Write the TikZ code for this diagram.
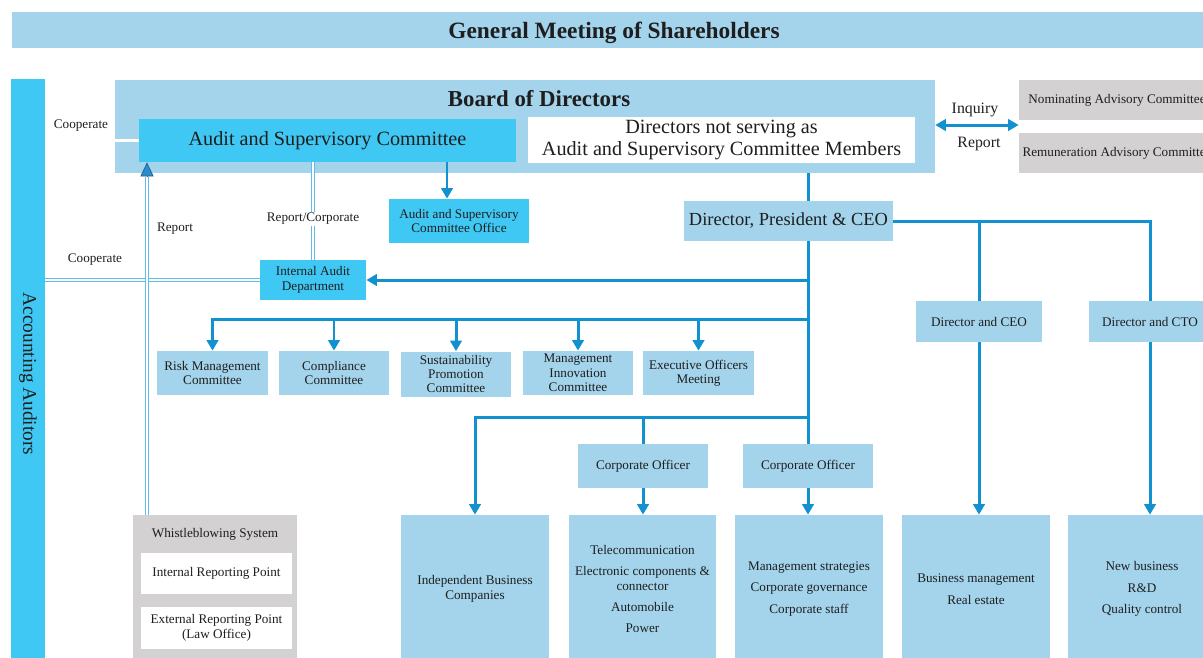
\documentclass[tikz,border=0pt]{standalone}
\usepackage{fontspec}
\setmainfont{Liberation Serif}
\usetikzlibrary{arrows.meta}

\definecolor{palebox}{HTML}{A3D4EC}
\definecolor{brightbox}{HTML}{40C8F4}
\definecolor{greybox}{HTML}{D3D1D1}
\definecolor{linkblue}{HTML}{1192CF}
\definecolor{pipeblue}{HTML}{62BCE6}
\definecolor{tipblue}{HTML}{2C8CCB}
\definecolor{ink}{HTML}{1E1E1E}

\tikzset{pale box/.style={fill=palebox,text=ink,align=center,inner sep=0.03cm,font=\fontsize{7.5}{8.2}\selectfont},
bright box/.style={pale box,fill=brightbox},
grey box/.style={pale box,fill=greybox},
white box/.style={pale box,fill=white},
note/.style={text=ink,inner sep=0.03cm,font=\fontsize{7.5}{8.2}\selectfont},
link/.style={draw=linkblue,line width=1.7pt},
feed/.style={link,-{Triangle[width=6.5pt,length=6pt]}},
both feed/.style={link,{Triangle[width=6.5pt,length=6pt]}-{Triangle[width=6.5pt,length=6pt]}},
double link/.style={draw=pipeblue,line width=0.45pt,double=white,double distance=1.2pt},
report tip/.style={draw=tipblue!70!black,line width=0.4pt,-{Triangle[width=7.5pt,length=8pt,fill=tipblue]}}}

\begin{document}
\begin{tikzpicture}[x=0.02cm,y=-0.02cm]
\useasboundingbox (0,0) rectangle (1203,657);

%% shareholders and auditors
\node[pale box,minimum width=24.08cm,minimum height=0.72cm,text depth=0pt,font=\fontsize{13.3}{15}\selectfont\bfseries] (gms) at (614,30) {General Meeting of Shareholders};
\node[bright box,minimum width=11.82cm,minimum height=0.68cm,rotate=-90,font=\fontsize{11}{13}\selectfont] (acc) at (28,374) {Accounting Auditors};

%% board of directors
\node[pale box,minimum width=16.4cm,minimum height=1.86cm] (board) at (525,126.5) {};
\node[note,font=\fontsize{13}{15}\selectfont\bfseries] (board title) at (539,99) {Board of Directors};
\node[bright box,minimum width=7.54cm,minimum height=0.86cm,font=\fontsize{11.5}{12.5}\selectfont] (asc) at (327.5,140.5) {Audit and Supervisory Committee};
\node[white box,minimum width=7.74cm,minimum height=0.92cm,font=\fontsize{11.5}{12.2}\selectfont] (dns) at (721.5,140) {Directors not serving as\\Audit and Supervisory Committee Members};

%% advisory committees
\node[grey box,minimum width=3.92cm,minimum height=0.8cm] (nac) at (1117,100) {Nominating Advisory Committee};
\node[grey box,minimum width=3.92cm,minimum height=0.8cm] (rac) at (1117,153) {Remuneration Advisory Committee};
\node[note,font=\fontsize{9}{10}\selectfont] (inquiry) at (975,110) {Inquiry};
\node[note,font=\fontsize{9}{10}\selectfont] (report right) at (979,144) {Report};

%% executives and offices
\node[pale box,minimum width=4.18cm,minimum height=0.8cm,font=\fontsize{10.5}{12}\selectfont] (dpc) at (788.5,221) {Director, President \& CEO};
\node[bright box,minimum width=2.8cm,minimum height=0.88cm] (asco) at (459,221) {Audit and Supervisory\\Committee Office};
\node[bright box,minimum width=2.12cm,minimum height=0.8cm] (iad) at (313,280) {Internal Audit\\Department};
\node[pale box,minimum width=2.52cm,minimum height=0.82cm] (dceo) at (979,321.5) {Director and CEO};
\node[pale box,minimum width=2.44cm,minimum height=0.82cm] (dcto) at (1150,321.5) {Director and CTO};

%% committees
\node[pale box,minimum width=2.22cm,minimum height=0.88cm] (rmc) at (212.5,373) {Risk Management\\Committee};
\node[pale box,minimum width=2.22cm,minimum height=0.88cm] (cc) at (334,373) {Compliance\\Committee};
\node[pale box,minimum width=2.22cm,minimum height=0.9cm] (spc) at (456,374) {Sustainability\\Promotion\\Committee};
\node[pale box,minimum width=2.22cm,minimum height=0.88cm] (mic) at (578,373) {Management\\Innovation\\Committee};
\node[pale box,minimum width=2.22cm,minimum height=0.88cm] (eom) at (698.5,373) {Executive Officers\\Meeting};

%% corporate officers
\node[pale box,minimum width=2.6cm,minimum height=0.88cm] (co1) at (643,466) {Corporate Officer};
\node[pale box,minimum width=2.6cm,minimum height=0.88cm] (co2) at (808,466) {Corporate Officer};

%% business units
\node[pale box,minimum width=2.96cm,minimum height=2.96cm] (ibc) at (475,589) {Independent Business\\Companies};
\node[pale box,minimum width=2.96cm,minimum height=2.96cm] (tel) at (642.5,589) {Telecommunication\\[3.8pt]Electronic components \&\\connector\\[3.8pt]Automobile\\[3.8pt]Power};
\node[pale box,minimum width=2.96cm,minimum height=2.96cm] (mgs) at (809,589) {Management strategies\\[4.2pt]Corporate governance\\[4.2pt]Corporate staff};
\node[pale box,minimum width=2.96cm,minimum height=2.96cm] (bm) at (976,589) {Business management\\[4.2pt]Real estate};
\node[pale box,minimum width=2.96cm,minimum height=2.96cm] (nb) at (1142,589) {New business\\[4.2pt]R\&D\\[4.2pt]Quality control};

%% whistleblowing
\node[grey box,minimum width=3.28cm,minimum height=2.96cm] (wb) at (215,589) {};
\node[note] (wb title) at (215,534) {Whistleblowing System};
\node[white box,minimum width=3.02cm,minimum height=0.82cm] (irp) at (216.5,573.5) {Internal Reporting Point};
\node[white box,minimum width=3.02cm,minimum height=0.84cm] (erp) at (216.5,628) {External Reporting Point\\(Law Office)};

%% coordinates of buses
\coordinate (office drop) at (447,0);
\coordinate (inquiry line) at (0,125);
\coordinate (committee bus) at (808,319);
\coordinate (company bus) at (808,417);
\coordinate (report base) at (147,177);

%% main trunk
\draw[link] (board.south -| co2.north) -- (dpc.north -| co2.north);
\draw[link] (dpc.south -| co2.north) -- (co2.north);
\draw[feed] (iad.east -| co2.north) -- (iad.east);
\draw[feed] (asc.south -| office drop) -- (asco.north -| office drop);
\draw[both feed] (board.east |- inquiry line) -- (nac.west |- inquiry line);

%% committee bus
\draw[feed] (committee bus) -| (rmc.north);
\draw[feed] (committee bus -| cc.north) -- (cc.north);
\draw[feed] (committee bus -| spc.north) -- (spc.north);
\draw[feed] (committee bus -| mic.north) -- (mic.north);
\draw[feed] (committee bus -| eom.north) -- (eom.north);

%% company bus
\draw[feed] (company bus) -| (ibc.north);
\draw[link] (company bus -| co1.north) -- (co1.north);
\draw[feed] (co1.south) -- (tel.north -| co1.south);
\draw[feed] (co2.south) -- (mgs.north -| co2.south);

%% directors on the right
\draw[link] (dpc.east) -| (dcto.north);
\draw[link] (dpc.east -| dceo.north) -- (dceo.north);
\draw[feed] (dceo.south) -- (bm.north -| dceo.south);
\draw[feed] (dcto.south) -- (nb.north -| dcto.south);

%% audit links (acc is turned, so acc.north is its right edge)
\draw[double link] (asc.west -| acc.north) -- (asc.west);
\draw[double link] (iad.west -| acc.north) -- (iad.west);
\draw[double link] (asc.south -| iad.north) -- (iad.north) node[note,fill=white,pos=0.58] (rc label) {Report/Corporate};
\draw[double link] (wb.north -| report base) -- (report base);
\draw[report tip] (report base) -- (asc.south -| report base);

%% link labels
\node[note] (coop upper) at (81,126) {Cooperate};
\node[note] (coop lower) at (95,260) {Cooperate};
\node[note] (report left) at (175,229) {Report};

\end{tikzpicture}
\end{document}
